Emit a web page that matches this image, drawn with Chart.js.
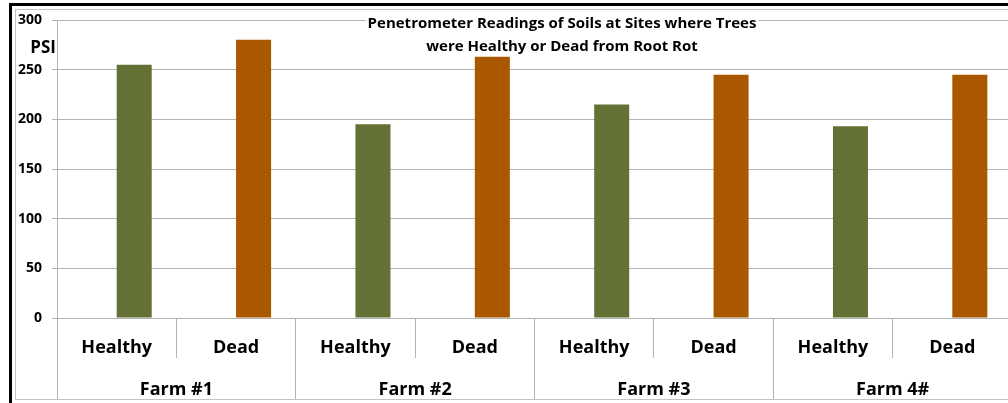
<!DOCTYPE html>
<html>
<head>
<meta charset="utf-8">
<script src="https://cdn.jsdelivr.net/npm/chart.js@4.4.0/dist/chart.umd.min.js"></script>
<style>
html, body { margin: 0; padding: 0; background: #fff; overflow: hidden; }
#page { position: relative; width: 1008px; height: 403px; overflow: hidden; }
#edge { position: absolute; left: 9px; top: 3px; width: 1100px; height: 420px; border-left: 3px solid #000; border-top: 3px solid #000; }
#frame { position: absolute; left: 15px; top: 9px; width: 1100px; height: 389px; border: 1px solid #c4c4c4; }
#myChart { position: absolute; left: 0; top: 0; }
</style>
</head>
<body>
<div id="page">
  <div id="edge"></div>
  <div id="frame"></div>
  <canvas id="myChart" width="1018" height="403"></canvas>
</div>
<script>
const categories = ['Healthy', 'Dead', 'Healthy', 'Dead', 'Healthy', 'Dead', 'Healthy', 'Dead']
const farms = ['Farm #1', 'Farm #2', 'Farm #3', 'Farm 4#']
const psiValues = [255, 280, 195, 263, 215, 245, 193, 245]
const yMin = 0
const yMax = 300
const yStep = 50
const titleLines = ['Penetrometer Readings of Soils at Sites where Trees', 'were Healthy or Dead from Root Rot']
const unitLabel = 'PSI'

const green = '#637234'
const orange = '#aa5800'
const gridGrey = '#b3b3b3'

const barColors = categories.map(c => c === 'Healthy' ? green : orange)

Chart.defaults.font.family = "'Open Sans', sans-serif"
Chart.defaults.font.weight = 'bold'
Chart.defaults.color = '#000'

// title sits inside the plot, over the top gridline, like the excel one
const chartTitle = {
  id: 'chartTitle',
  beforeDatasetsDraw(chart) {
    const ctx = chart.ctx
    const cx = 562
    ctx.save()
    ctx.font = "bold 15px 'Open Sans'"
    const w = Math.max(...titleLines.map(t => ctx.measureText(t).width))
    ctx.fillStyle = '#fff'
    ctx.fillRect(cx - w / 2 - 2, 13, w + 4, 15)
    ctx.fillStyle = '#000'
    ctx.textAlign = 'center'
    ctx.textBaseline = 'middle'
    titleLines.forEach((t, i) => ctx.fillText(t, cx, 24 + i * 22.5))

    ctx.font = "bold 17px 'Open Sans'"
    ctx.textAlign = 'right'
    ctx.fillText(unitLabel, chart.chartArea.left - 1, 48)
    ctx.restore()
  }
}

const ctx = document.getElementById('myChart')

const data = {
  labels: categories,
  datasets: [
    {
      // empty slot so the real bar sits right of the category centre
      label: 'spacer',
      data: categories.map(() => null),
      backgroundColor: 'rgba(0,0,0,0)'
    },
    {
      label: 'PSI',
      data: psiValues,
      backgroundColor: barColors,
      borderWidth: 0
    }
  ]
}

var myChart = new Chart(ctx, {
  type: 'bar',
  data: data,
  options: {
    responsive: false,
    animation: false,
    categoryPercentage: 0.587,
    barPercentage: 1,
    layout: { padding: { left: 0, top: 20, right: 6, bottom: 4 } },
    plugins: {
      legend: { display: false },
      tooltip: { enabled: false },
      title: { display: false }
    },
    scales: {
      y: {
        min: yMin,
        max: yMax,
        ticks: { stepSize: yStep, padding: 10, font: { size: 14, weight: 'bold' } },
        grid: { color: gridGrey, tickLength: 5 },
        border: { color: gridGrey },
        afterFit: (scale) => { scale.width = 57 }
      },
      x: {
        weight: 0,
        offset: true,
        ticks: { autoSkip: false, maxRotation: 0, padding: -21, font: { size: 18, weight: 'bold' } },
        grid: { drawOnChartArea: false, offset: true, color: gridGrey, tickLength: 40 },
        border: { color: gridGrey },
        afterFit: (scale) => { scale.height = 40 }
      },
      x2: {
        type: 'category',
        position: 'bottom',
        weight: 1,
        labels: farms,
        offset: true,
        ticks: { autoSkip: false, maxRotation: 0, padding: -20, font: { size: 18, weight: 'bold' } },
        grid: { drawOnChartArea: false, offset: true, color: gridGrey, tickLength: 41 },
        border: { display: false },
        afterFit: (scale) => { scale.height = 41 }
      }
    }
  },
  plugins: [chartTitle]
})
</script>
</body>
</html>
